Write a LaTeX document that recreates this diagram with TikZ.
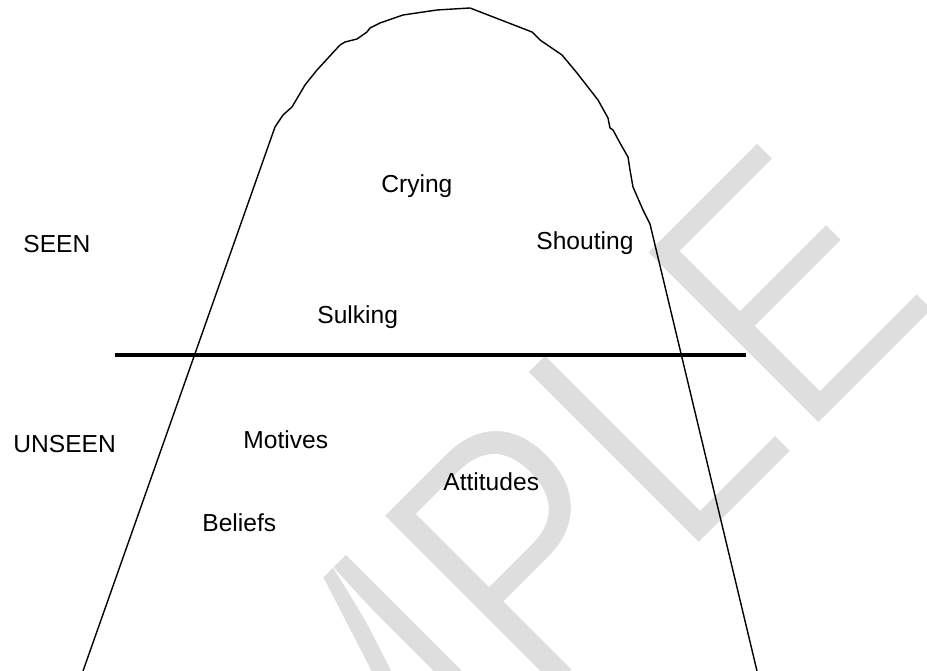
\documentclass[tikz,border=0pt]{standalone}
\usepackage{fontspec}
\setmainfont{Liberation Sans}
\usepackage{xcolor}
\definecolor{markgray}{HTML}{DEDEDE}
% thin the watermark glyphs: fill, then a white stroke over the outline
\newcommand{\thinglyphs}[1]{\special{pdf:code 2 Tr 1 G 3.5 w}#1\special{pdf:code 0 Tr}}

\begin{document}
\begin{tikzpicture}[x=0.02cm, y=-0.02cm,
    lbl/.style={anchor=base west, inner sep=0pt, font=\fontsize{14}{16}\selectfont},
    berg/.style={line width=0.8pt, line join=round}]
  \useasboundingbox (0,0) rectangle (927,671);
  % watermark behind everything
  \begin{scope}
    \clip (0,0) rectangle (927,671);
    \node[markgray, inner sep=0pt, anchor=base east, rotate=45, xscale=0.85,
      font=\fontsize{204}{204}\selectfont] (mark) at (945,300) {\thinglyphs{SAMPLE}};
  \end{scope}
  % iceberg outline
  \draw[berg] (83,671) -- (275,127) -- (283,115) -- (292,107) -- (305,85)
    -- (317,70) -- (340,45) -- (345,42) -- (357,39) -- (367,32) -- (370,28)
    -- (380,23) -- (403,15) -- (437,10) -- (470,8) -- (532,32) -- (540,40)
    -- (562,55) -- (577,73) -- (598,100) -- (608,118) -- (610,128) -- (613,130)
    -- (620,143) -- (628,157) -- (630,170) -- (633,187) -- (643,210)
    -- (650,224) -- (757,671);
  % waterline
  \draw[line width=2.3pt] (115,355) -- (746,355);
  \node[lbl] (seen) at (23,253) {SEEN};
  \node[lbl] (unseen) at (13,453) {UNSEEN};
  \node[lbl] (crying) at (381,193) {Crying};
  \node[lbl] (shouting) at (536,250) {Shouting};
  \node[lbl] (sulking) at (317,324) {Sulking};
  \node[lbl] (motives) at (243,449) {Motives};
  \node[lbl] (attitudes) at (443,491) {Attitudes};
  \node[lbl] (beliefs) at (202,532) {Beliefs};
\end{tikzpicture}
\end{document}
